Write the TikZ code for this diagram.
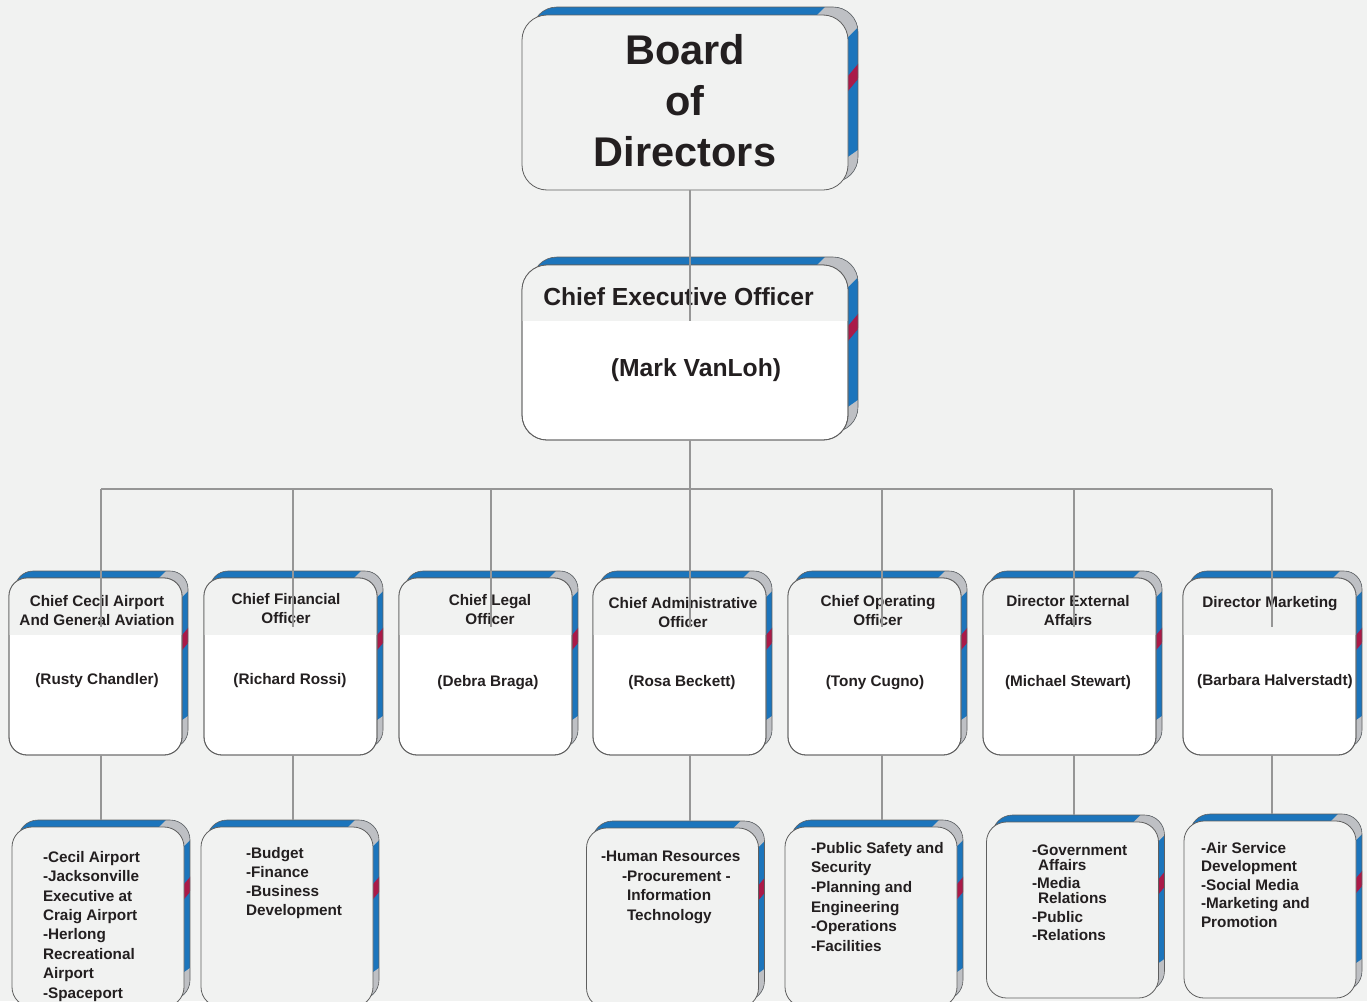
\documentclass[tikz,border=0pt]{standalone}
\usepackage{fontspec}
\setmainfont{Liberation Sans}
\usetikzlibrary{calc}
\pgfdeclarelayer{bgl}
\pgfdeclarelayer{back}
\pgfsetlayers{bgl,back,main}
\definecolor{bgc}{RGB}{241,242,241}
\definecolor{cblue}{RGB}{28,117,188}
\definecolor{cred}{RGB}{170,26,72}
\definecolor{cgrey}{RGB}{190,192,196}
\definecolor{cborder}{RGB}{95,95,95}
\definecolor{cline}{RGB}{150,150,150}
\definecolor{ctext}{RGB}{35,31,32}

% #1 node, #2 dx, #3 dy (up), #4 radius, #5 corner cut
\newcommand\cardback[5]{%
 \begin{pgfonlayer}{back}
  \coordinate (#1-bsw) at ($(#1.south west)+(#2,-#3)$);
  \coordinate (#1-bne) at ($(#1.north east)+(#2,-#3)$);
  \coordinate (#1-bse) at ($(#1.south east)+(#2,-#3)$);
  \begin{scope}
   \clip[rounded corners=#4] (#1-bsw) rectangle (#1-bne);
   \fill[cblue] (#1-bsw) rectangle (#1-bne);
   \fill[cgrey] ($(#1-bne)+(-#5+15,-15)$) -- ($(#1-bne)+(15,-15)$) -- ($(#1-bne)+(15,5)$) -- ($(#1-bne)+(-15,35)$) -- ($(#1-bne)+(-#5-15,15)$) -- cycle;
   \fill[cred] ($(#1-bne)+(10,45)$) -- ($(#1-bne)+(10,60)$) -- ($(#1-bne)+(-20,96)$) -- ($(#1-bne)+(-20,81)$) -- cycle;
   \fill[cgrey] ($(#1-bse)+(10,-39)$) -- ($(#1-bse)+(10,10)$) -- ($(#1-bse)+(-20,10)$) -- ($(#1-bse)+(-20,-18)$) -- cycle;
  \end{scope}
  \draw[cborder, line width=0.6pt, rounded corners=#4] (#1-bsw) rectangle (#1-bne);
 \end{pgfonlayer}}

% #1 node, #2 radius, #3 header height
\newcommand\cardhead[3]{%
 \begin{scope}
  \clip[rounded corners=#2] (#1.south west) rectangle (#1.north east);
  \fill[bgc] (#1.north west) rectangle ($(#1.north east)+(0,#3)$);
 \end{scope}
 \draw[cborder, line width=0.8pt, rounded corners=#2] (#1.south west) rectangle (#1.north east);}

\begin{document}
\begin{tikzpicture}[x=1pt,y=-1pt,
  conn/.style={draw=cline, line width=1.6pt},
  cardbase/.style={draw=cborder, line width=0.8pt, inner sep=0pt, outer sep=0pt},
  bigcard/.style={cardbase, rounded corners=25pt, minimum width=326pt, minimum height=175pt},
  midcard/.style={cardbase, fill=white, rounded corners=18pt, minimum width=173pt, minimum height=177pt},
  lowcard/.style={cardbase, fill=bgc, rounded corners=20pt, minimum width=172pt},
  txt/.style={text=ctext, inner sep=0pt, outer sep=0pt, font=\bfseries\fontsize{15.3}{19}\selectfont},
  ctxt/.style={txt, align=center, anchor=base},
  ltxt/.style={txt, align=left, anchor=base west}]
\begin{pgfonlayer}{bgl}
 \fill[bgc] (0,0) rectangle (1367,1001);
\end{pgfonlayer}
\useasboundingbox (0,0) rectangle (1367,1001);

% ---- top cards
\node[bigcard, fill=bgc] (board) at (685,102.5) {};
\node[bigcard, fill=white] (ceo) at (685,352.5) {};
\cardback{board}{10}{8}{25pt}{33}
\cardback{ceo}{10}{8}{25pt}{33}
\cardhead{ceo}{25pt}{56}

% ---- middle cards
\foreach \i/\cx in {1/95.5,2/290.5,3/485.5,4/679.5,5/874.5,6/1069.5,7/1269.5}{
  \node[midcard] (m\i) at (\cx,666.5) {};
  \cardback{m\i}{6}{7}{18pt}{22}
  \cardhead{m\i}{18pt}{57}
}

% ---- lower cards
\node[lowcard, minimum height=180pt] (b1) at (98,917) {};
\node[lowcard, minimum height=180pt] (b2) at (287,917) {};
\node[lowcard, minimum height=180pt] (b3) at (672.5,918) {};
\node[lowcard, minimum height=180pt] (b4) at (871,917) {};
\node[lowcard, minimum height=176pt] (b5) at (1072.5,910) {};
\node[lowcard, minimum height=177pt] (b6) at (1270,909.5) {};
\foreach \i in {1,...,6}{\cardback{b\i}{6}{7}{20pt}{24}}

% ---- texts (anchor base = baseline of the last line)
\node[ctxt, font=\bfseries\fontsize{41.5}{51}\selectfont] (boardt) at (685,166) {Board\\of\\Directors};
\node[ctxt, font=\bfseries\fontsize{24.7}{30}\selectfont] (ceot) at (678.5,305) {Chief Executive Officer};
\node[ctxt, font=\bfseries\fontsize{24.7}{30}\selectfont] (ceon) at (696,376) {(Mark VanLoh)};

\node[ctxt] (h1) at (97,625) {Chief Cecil Airport\\And General Aviation};
\node[ctxt] (h2) at (286,623) {Chief Financial\\Officer};
\node[ctxt] (h3) at (490,624) {Chief Legal\\Officer};
\node[ctxt] (h4) at (683,627) {Chief Administrative\\Officer};
\node[ctxt] (h5) at (878,625) {Chief Operating\\Officer};
\node[ctxt] (h6) at (1068,625) {Director External\\Affairs};
\node[ctxt] (h7) at (1270,607) {Director Marketing};

\node[ctxt] (n1) at (97,684) {(Rusty Chandler)};
\node[ctxt] (n2) at (290,684) {(Richard Rossi)};
\node[ctxt] (n3) at (488,686) {(Debra Braga)};
\node[ctxt] (n4) at (682,686) {(Rosa Beckett)};
\node[ctxt] (n5) at (875,686) {(Tony Cugno)};
\node[ctxt] (n6) at (1068,686) {(Michael Stewart)};
\node[ctxt] (n7) at (1275,685) {(Barbara Halverstadt)};

\node[ltxt, font=\bfseries\fontsize{15.3}{19.4}\selectfont] (t1) at (43,998) {-Cecil Airport\\-Jacksonville\\Executive at\\Craig Airport\\-Herlong\\Recreational\\Airport\\-Spaceport};
\node[ltxt, font=\bfseries\fontsize{15.3}{18.7}\selectfont] (t2) at (246,915) {-Budget\\-Finance\\-Business\\Development};
\node[ltxt, font=\bfseries\fontsize{15.3}{19.4}\selectfont] (t3) at (601,920) {-Human Resources\\\hspace*{21pt}-Procurement -\\\hspace*{26pt}Information\\\hspace*{26pt}Technology};
\node[ltxt, font=\bfseries\fontsize{15.3}{19.7}\selectfont] (t4) at (811,951.5) {-Public Safety and\\Security\\-Planning and\\Engineering\\-Operations\\-Facilities};
\node[ltxt, font=\bfseries\fontsize{15.3}{15}\selectfont] (t5) at (1032,940) {-Government\\\hspace*{6pt}Affairs\\[3pt]-Media\\\hspace*{6pt}Relations\\[4pt]-Public\\[3pt]-Relations};
\node[ltxt, font=\bfseries\fontsize{15.3}{18.5}\selectfont] (t6) at (1201,927) {-Air Service\\Development\\-Social Media\\-Marketing and\\Promotion};

% ---- connectors
\draw[conn] ($(board.south)+(5,0)$) -- ($(ceo.north)+(5,56)$);
\draw[conn] ($(ceo.south)+(5,0)$) -- ($(ceo.south)+(5,49)$) coordinate (bus);
\draw[conn] ($(m1.north)+(5.5,-89)$) -- ($(m7.north)+(2.5,-89)$);
\foreach \i/\dx in {1/5.5,2/2.5,3/5.5,4/10.5,5/7.5,6/4.5,7/2.5}{
  \draw[conn] ($(m\i.north)+(\dx,-89)$) -- ($(m\i.north)+(\dx,49)$);
}
\foreach \m/\b/\dx/\dy in {1/1/5.5/3,2/2/2.5/6,4/3/10.5/17.5,5/4/7.5/11,6/5/4.5/1.5,7/6/2.5/2}{
  \draw[conn] ($(m\m.south)+(\dx,0)$) -- ($(b\b.north)+(\dy,-7)$);
}
\end{tikzpicture}
\end{document}
